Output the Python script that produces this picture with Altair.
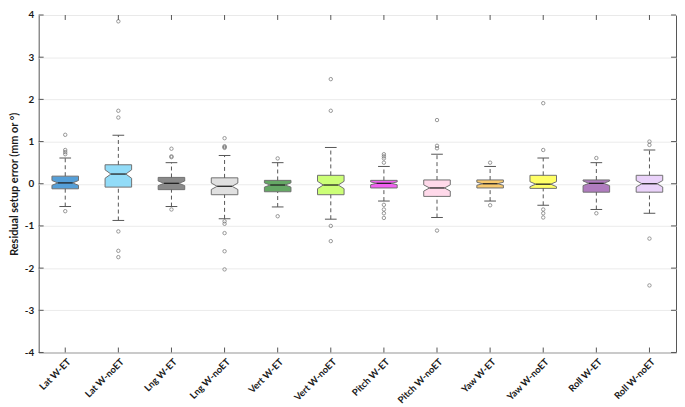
import altair as alt
import pandas as pd

categories = ["Lat W-ET", "Lat W-noET", "Lng W-ET", "Lng W-noET", "Vert W-ET", "Vert W-noET",
              "Pitch W-ET", "Pitch W-noET", "Yaw W-ET", "Yaw W-noET", "Roll W-ET", "Roll W-noET"]
colors = ["#559fd8", "#92dcf8", "#8a8a8a", "#e0e0e0", "#65a865", "#ccff77",
          "#f060f0", "#ffd9ea", "#f7c96e", "#ffff66", "#b07cbf", "#ead2fa"]
q1 = [-0.12, -0.08, -0.14, -0.26, -0.19, -0.26, -0.10, -0.30, -0.10, -0.11, -0.20, -0.20]
median = [0.02, 0.23, 0.01, -0.06, -0.03, -0.03, 0.01, -0.10, 0.00, -0.01, 0.01, 0.00]
q3 = [0.18, 0.45, 0.15, 0.14, 0.08, 0.20, 0.08, 0.09, 0.09, 0.20, 0.09, 0.20]
notch_half = [0.057, 0.10, 0.055, 0.076, 0.05, 0.087, 0.034, 0.074, 0.036, 0.059, 0.055, 0.076]
upper_whisker = [0.61, 1.15, 0.50, 0.67, 0.50, 0.86, 0.41, 0.70, 0.41, 0.61, 0.50, 0.80]
lower_whisker = [-0.54, -0.87, -0.54, -0.83, -0.55, -0.84, -0.41, -0.80, -0.41, -0.51, -0.61, -0.70]
outlier_values = [
    [1.16, 0.80, 0.75, 0.70, -0.65],
    [3.85, 1.73, 1.57, -1.13, -1.59, -1.74],
    [0.83, 0.65, 0.63, -0.61],
    [1.08, 0.89, 0.87, 0.85, -0.89, -0.95, -1.17, -1.60, -2.03],
    [0.60, -0.77],
    [2.48, 1.73, -1.00, -1.36],
    [0.70, 0.65, 0.60, 0.50, -0.50, -0.61, -0.70, -0.81],
    [1.51, 0.90, 0.84, -1.11],
    [0.50, -0.51],
    [1.91, 0.80, -0.61, -0.70, -0.80],
    [0.61, -0.70],
    [1.00, 0.92, -1.30, -2.41],
]
y_ticks = [-4, -3, -2, -1, 0, 1, 2, 3, 4]

W, H = 644, 341
HW, ND, CW = 0.25, 0.11, 0.11
TICK = 5
FONT = "Lato"

rows = []
for i, c in enumerate(categories):
    L, R = i - HW, i + HW
    pts = [(q1[i], L, R), (median[i] - notch_half[i], L, R), (median[i], L + ND, R - ND),
           (median[i] + notch_half[i], L, R), (q3[i], L, R)]
    for yv, xl, xr in pts:
        rows.append({"cat": c, "y": yv, "xl": xl, "xr": xr})
boxdf = pd.DataFrame(rows)

stats = pd.DataFrame({
    "cat": categories, "i": list(range(len(categories))), "q1": q1, "q3": q3, "med": median,
    "uw": upper_whisker, "lw": lower_whisker,
})
stats["ml"] = stats["i"] - HW + ND
stats["mr"] = stats["i"] + HW - ND
stats["cl"] = stats["i"] - CW
stats["cr"] = stats["i"] + CW

orows = []
for i, vals in enumerate(outlier_values):
    for v in vals:
        orows.append({"i": i, "v": v})
outdf = pd.DataFrame(orows)
ytickdf = pd.DataFrame({"v": y_ticks})
xtickdf = pd.DataFrame({"i": list(range(len(categories)))})

xscale = alt.Scale(domain=[-0.5, len(categories) - 0.5], nice=False, zero=False)
yscale = alt.Scale(domain=[-4, 4], nice=False, zero=False)

label_expr = "[" + ",".join("'" + c + "'" for c in categories) + "][datum.value]"
xaxis = alt.Axis(values=list(range(len(categories))), labelExpr=label_expr, labelAngle=-45,
                 labelAlign="right", labelBaseline="top", labelPadding=4, ticks=False,
                 domain=False, grid=False, title=None, labelFont=FONT, labelFontWeight="bold",
                 labelFontSize=9.5, labelColor="#1a1a1a")
yaxis = alt.Axis(values=y_ticks, labelExpr="replace(format(datum.value, 'd'), '−', '-')",
                 grid=True, gridColor="#ebebeb", ticks=False,
                 domain=False, labelPadding=5, titlePadding=5, title="Residual setup error (mm or °)",
                 labelFont=FONT, labelFontWeight="bold", labelFontSize=10, labelColor="#1a1a1a",
                 titleFont=FONT, titleFontWeight="bold", titleFontSize=11, titleColor="#1a1a1a")


def X(f):
    return alt.X(f, scale=xscale, axis=xaxis)


def Y(f):
    return alt.Y(f, scale=yscale, axis=yaxis)


boxes = alt.Chart(boxdf).mark_area(orient="horizontal", stroke="#707070", strokeWidth=1).encode(
    y=Y("y:Q"),
    x=alt.X("xl:Q", scale=xscale, axis=xaxis, stack=None),
    x2="xr:Q",
    fill=alt.Fill("cat:N", scale=alt.Scale(domain=categories, range=colors), legend=None),
)

upper = alt.Chart(stats).mark_rule(color="#555", strokeDash=[4, 3], strokeWidth=1).encode(
    x=X("i:Q"), y=Y("q3:Q"), y2="uw:Q")
lower = alt.Chart(stats).mark_rule(color="#555", strokeDash=[4, 3], strokeWidth=1).encode(
    x=X("i:Q"), y=Y("lw:Q"), y2="q1:Q")
cap_u = alt.Chart(stats).mark_rule(color="#555", strokeWidth=1).encode(
    x=X("cl:Q"), x2="cr:Q", y=Y("uw:Q"))
cap_l = alt.Chart(stats).mark_rule(color="#555", strokeWidth=1).encode(
    x=X("cl:Q"), x2="cr:Q", y=Y("lw:Q"))
med = alt.Chart(stats).mark_rule(color="#222", strokeWidth=1.3).encode(
    x=X("ml:Q"), x2="mr:Q", y=Y("med:Q"))
pts = alt.Chart(outdf).mark_point(shape="circle", size=12, filled=False, color="#6a6a6a",
                                  strokeWidth=1).encode(x=X("i:Q"), y=Y("v:Q"))

tick_l = alt.Chart(ytickdf).mark_rule(color="#555").encode(
    y=Y("v:Q"), x=alt.value(0), x2=alt.value(TICK))
tick_r = alt.Chart(ytickdf).mark_rule(color="#555").encode(
    y=Y("v:Q"), x=alt.value(W - TICK), x2=alt.value(W))
tick_t = alt.Chart(xtickdf).mark_rule(color="#555").encode(
    x=X("i:Q"), y=alt.value(0), y2=alt.value(TICK))
tick_b = alt.Chart(xtickdf).mark_rule(color="#555").encode(
    x=X("i:Q"), y=alt.value(H - TICK), y2=alt.value(H))

chart = alt.layer(boxes, upper, lower, cap_u, cap_l, med, pts, tick_l, tick_r, tick_t, tick_b).properties(
    width=W, height=H, padding={"left": 0, "top": 0, "right": 0, "bottom": 0}
).configure_view(stroke="#555", strokeWidth=1)

chart.save("out.html", embed_options={"renderer": "svg", "actions": False})
